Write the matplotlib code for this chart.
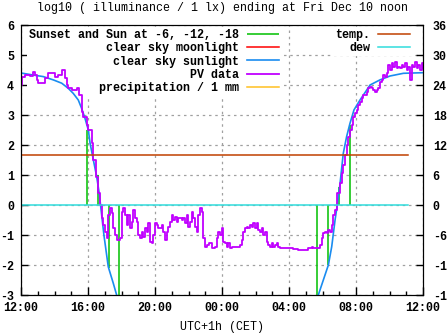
import matplotlib
matplotlib.use('Agg')
import matplotlib.pyplot as plt
from matplotlib.ticker import MultipleLocator, FixedLocator

# time axis: hours after 12:00 (Thu Dec 9, CET)
tick_hours = [0, 4, 8, 12, 16, 20, 24]
tick_labels = ['12:00', '16:00', '20:00', '00:00', '04:00', '08:00', '12:00']

# PV data, log10 illuminance
pv_hours = [0.0, 0.04, 0.24, 0.54, 0.73, 0.84, 0.94, 1.03, 1.31, 1.43, 1.61, 1.91,
            2.03, 2.23, 2.43, 2.63, 2.73, 2.82, 3.04, 3.22, 3.34, 3.48, 3.62, 3.72,
            3.92, 4.02, 4.22, 4.32, 4.48, 4.61, 4.72, 4.82, 4.91, 5.01, 5.12, 5.21,
            5.31, 5.41, 5.51, 5.61, 5.73, 5.91, 6.01, 6.11, 6.21, 6.31, 6.41, 6.51,
            6.61, 6.70, 6.81, 6.91, 7.00, 7.10, 7.21, 7.30, 7.40, 7.50, 7.60, 7.70,
            7.80, 7.90, 8.00, 8.10, 8.20, 8.30, 8.40, 8.50, 8.60, 8.70, 8.79, 8.90,
            9.00, 9.09, 9.19, 9.30, 9.39, 9.59, 9.69, 9.79, 9.89, 9.99, 10.09, 10.19,
            10.29, 10.39, 10.49, 10.59, 10.69, 10.79, 10.88, 10.99, 11.09, 11.22, 11.39,
            11.58, 11.68, 11.78, 11.88, 11.98, 12.08, 12.18, 12.28, 12.38, 12.48, 12.60,
            12.96, 13.07, 13.18, 13.27, 13.37, 13.47, 13.57, 13.67, 13.77, 13.87, 13.97,
            14.07, 14.17, 14.27, 14.37, 14.47, 14.57, 14.67, 14.76, 14.87, 14.97, 15.06,
            15.16, 15.27, 15.36, 15.46, 15.94, 16.26, 16.54, 16.96, 17.15, 17.36, 17.45,
            17.65, 17.85, 17.95, 18.05, 18.15, 18.25, 18.35, 18.45, 18.55, 18.64, 18.75,
            18.88, 19.04, 19.15, 19.24, 19.34, 19.44, 19.54, 19.64, 19.74, 19.84, 19.94,
            20.04, 20.14, 20.24, 20.34, 20.44, 20.64, 20.74, 20.84, 20.94, 21.03, 21.13,
            21.24, 21.33, 21.43, 21.53, 21.63, 21.73, 21.83, 21.93, 22.03, 22.13, 22.23,
            22.33, 22.43, 22.52, 22.63, 22.73, 22.82, 22.93, 23.03, 23.12, 23.22, 23.33,
            23.42, 23.52, 23.63, 23.72, 23.82, 23.92, 24.0]
pv_log = [4.0, 4.28, 4.33, 4.3, 4.44, 4.33, 4.17, 4.08, 4.08, 4.22, 4.39, 4.39,
          4.28, 4.33, 4.5, 4.22, 4.0, 3.89, 3.83, 3.83, 3.89, 3.67, 3.11, 2.94,
          2.67, 2.5, 2.06, 1.5, 0.94, 0.39, 0.0, -0.44, -0.67, -0.89, -1.11, -0.33,
          -0.11, -0.28, -0.78, -1.0, -1.17, -1.11, -0.22, -0.11, -0.33, -0.67, -0.33, -0.78,
          -0.56, -0.17, -0.44, -0.56, -1.0, -1.11, -0.89, -1.06, -0.78, -0.89, -0.61, -1.22,
          -1.28, -1.0, -0.61, -0.67, -0.78, -0.78, -0.67, -0.89, -1.17, -0.89, -0.72, -0.56,
          -0.33, -0.5, -0.39, -0.56, -0.44, -0.5, -0.44, -0.61, -0.33, -0.72, -0.56, -0.22,
          -0.44, -0.72, -0.89, -0.33, -0.11, -0.22, -1.11, -1.39, -1.33, -1.28, -1.44,
          -1.39, -1.11, -0.89, -1.0, -0.78, -1.22, -1.28, -1.39, -1.28, -1.44, -1.39,
          -1.39, -1.33, -1.17, -0.89, -0.78, -0.72, -0.78, -0.67, -0.72, -0.61, -0.78,
          -0.61, -0.83, -0.89, -0.78, -1.0, -0.89, -1.22, -1.33, -1.39, -1.28, -1.39,
          -1.33, -1.28, -1.39, -1.44, -1.44, -1.48, -1.5, -1.5, -1.44, -1.39, -1.44,
          -1.44, -1.33, -1.11, -0.94, -0.89, -0.94, -0.83, -0.89, -0.67, -0.33, -0.17,
          0.4, 0.72, 1.06, 1.33, 1.67, 2.0, 2.28, 2.5, 2.67, 2.94, 3.06,
          3.17, 3.33, 3.44, 3.56, 3.67, 3.78, 3.89, 3.94, 3.89, 3.83, 3.78,
          3.83, 3.89, 4.11, 4.17, 4.33, 4.28, 4.39, 4.67, 4.5, 4.72, 4.61,
          4.78, 4.56, 4.61, 4.56, 4.67, 4.61, 4.72, 4.5, 4.61, 4.17, 4.67,
          4.61, 4.78, 4.56, 4.67, 4.5, 4.72, 4.56]

# clear sky sunlight model
sun_hours = [0.0, 0.75, 1.33, 1.93, 2.43, 2.82, 3.12, 3.42, 3.62, 3.82, 4.02, 4.12,
             4.32, 4.52, 4.67, 4.76, 4.85, 4.95, 5.21, 5.51, 5.71, 5.8,
             17.7, 17.75, 18.05, 18.35, 18.55, 18.75, 18.88, 18.96, 19.04, 19.24, 19.44,
             19.64, 19.88, 20.24, 20.84, 21.43, 22.03, 22.83, 23.98]
sun_log = [4.4, 4.33, 4.28, 4.17, 4.06, 3.89, 3.72, 3.5, 3.22, 2.89, 2.5, 2.07,
           1.5, 0.94, 0.39, -0.06, -0.5, -1.0, -2.06, -2.61, -3.0, -3.2,
           -3.2, -3.0, -2.5, -2.0, -1.39, -0.5, 0.0, 0.33, 0.68, 1.72, 2.28,
           2.72, 3.17, 3.5, 4.0, 4.17, 4.3, 4.39, 4.41]

# sunset, sun at -6, -12, -18 (evening) and -18, -12, -6, sunrise (morning)
event_hours = [3.96, 4.57, 5.24, 5.87, 17.67, 18.35, 18.99, 19.66]
event_log = [2.5, 1.0, -2.1, -3.5, -3.5, -2.0, 0.6, 2.67]

# no moonlight / precipitation in this period
moon_hours = []
moon_log = []
rain_hours = []
rain_mm = []

# temperature and dew point, deg C
temp_hours = [0.0, 23.08]
temp_c = [10.0, 10.0]
dew_c = [0.0, 0.0]

GREEN = '#00c000'
RED = '#ff0000'
BLUE = '#1a8cf0'
PURPLE = '#c000ff'
GOLD = '#ffc020'
BROWN = '#c04000'
CYAN = '#30dcdc'

plt.rcParams['font.family'] = ['Liberation Mono', 'DejaVu Sans Mono']
plt.rcParams['font.weight'] = 'bold'
plt.rcParams['font.size'] = 8.4
plt.rcParams['axes.unicode_minus'] = False

W, H = 447, 335
fig = plt.figure(figsize=(W / 100, H / 100), dpi=100)
ax = fig.add_axes([21 / W, 40 / H, 402 / W, 270 / H])
ax2 = ax.twinx()

ax.vlines(event_hours, 0, event_log, color=GREEN, lw=1.1, zorder=2,
          label='Sunset and Sun at -6, -12, -18')
ax.plot(moon_hours, moon_log, color=RED, lw=1.1, label='clear sky moonlight')
ax.plot(sun_hours, sun_log, color=BLUE, lw=1.2, label='clear sky sunlight')
ax.plot(pv_hours, pv_log, color=PURPLE, lw=1.3, drawstyle='steps-post', label='PV data')
ax.plot(rain_hours, rain_mm, color=GOLD, lw=1.1, label='precipitation / 1 mm')

ax2.plot(temp_hours, temp_c, color=BROWN, lw=1.1, label='temp.')
ax2.plot(temp_hours, dew_c, color=CYAN, lw=1.1, label='dew')

ax.set_xlim(0, 24)
ax.set_ylim(-3, 6)
ax2.set_ylim(-18, 36)
ax.xaxis.set_major_locator(FixedLocator(tick_hours))
ax.set_xticklabels(tick_labels)
ax.xaxis.set_minor_locator(MultipleLocator(1))
ax.yaxis.set_major_locator(MultipleLocator(1))
ax2.yaxis.set_major_locator(MultipleLocator(6))

ax.set_axisbelow(True)
ax.grid(True, color='#a0a0a0', linestyle=(0, (2, 3)), lw=0.9)
ax.tick_params(axis='x', which='major', direction='in', length=6, width=1, pad=5)
ax.tick_params(axis='x', which='minor', direction='in', length=3, width=1)
ax.tick_params(axis='y', direction='in', length=5, width=1, pad=5)
ax2.tick_params(axis='y', direction='in', length=5, width=1, pad=7)

ax.set_title('log10 ( illuminance / 1 lx) ending at Fri Dec 10 noon', fontsize=8.4, pad=10)
ax.set_xlabel('UTC+1h (CET)', labelpad=5)

leg_kw = dict(loc='upper right', markerfirst=False, frameon=True, fancybox=False,
              framealpha=1, facecolor='white', edgecolor='none', borderpad=0.15,
              labelspacing=0.12, handlelength=2.75, handletextpad=0.7, borderaxespad=0)
leg = ax.legend(bbox_to_anchor=((281 - 21) / 402, (295 - 27) / 270), **leg_kw)
leg.set_zorder(1)
leg2 = ax2.legend(bbox_to_anchor=((412 - 21) / 402, (295 - 27) / 270), **leg_kw)

fig.savefig('out.png', dpi=100)
